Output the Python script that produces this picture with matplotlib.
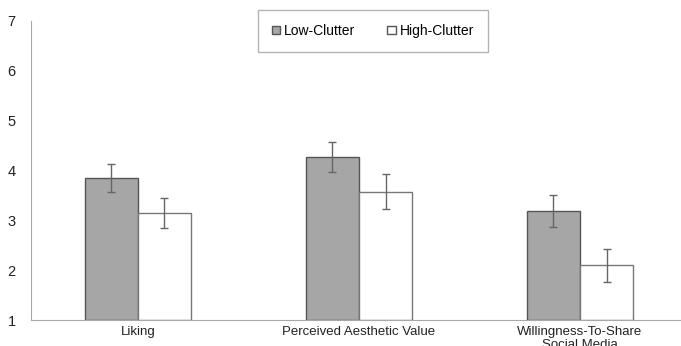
import numpy as np
import matplotlib.pyplot as plt
from matplotlib.patches import Patch

plt.rcParams['font.family'] = ['Liberation Sans', 'DejaVu Sans']

categories = ["Liking", "Perceived Aesthetic Value", "Willingness-To-Share\nSocial Media"]
low_clutter = [3.85, 4.27, 3.19]
high_clutter = [3.15, 3.57, 2.10]
low_err = [0.28, 0.31, 0.32]
high_err = [0.30, 0.35, 0.33]

fig = plt.figure(figsize=(6.81, 3.46), dpi=100)
ax = fig.add_axes([31/681, 1-320/346, 650/681, 299/346])

x = np.arange(len(categories))
w = 0.24
ekw = dict(ecolor='#666666', elinewidth=1, capsize=3, capthick=1)
ax.bar(x - w/2, np.array(low_clutter) - 1, w, bottom=1, color='#a6a6a6',
       edgecolor='#555555', linewidth=1, yerr=low_err, error_kw=ekw)
ax.bar(x + w/2, np.array(high_clutter) - 1, w, bottom=1, color='white',
       edgecolor='#777777', linewidth=1, yerr=high_err, error_kw=ekw)

ax.set_ylim(1, 7)
ax.set_xlim(-0.484, 2.457)
ax.set_yticks(range(1, 8))
ax.set_xticks(x)
ax.set_xticklabels(categories, fontsize=9.5, color='#222222')
ax.tick_params(axis='x', length=0, labelsize=9.5, colors='#222222', pad=4)
ax.tick_params(axis='y', length=0, labelsize=10.5, colors='#222222', pad=11)
ax.spines['top'].set_visible(False)
ax.spines['right'].set_visible(False)
ax.spines['left'].set_color('#a8a8a8')
ax.spines['bottom'].set_color('#a8a8a8')

handles = [Patch(facecolor='#a6a6a6', edgecolor='#555555', label='Low-Clutter'),
           Patch(facecolor='white', edgecolor='#555555', label='High-Clutter')]
leg = ax.legend(handles=handles, loc='upper center', bbox_to_anchor=(0.526, 1.037),
                ncol=2, fontsize=10, fancybox=False, frameon=True,
                handlelength=0.6, handleheight=0.6, handletextpad=0.3,
                columnspacing=2.3, borderpad=1.0, borderaxespad=0)
leg.get_frame().set_edgecolor('#a0a0a0')
leg.get_frame().set_linewidth(1)

fig.savefig('out.png', dpi=100)
